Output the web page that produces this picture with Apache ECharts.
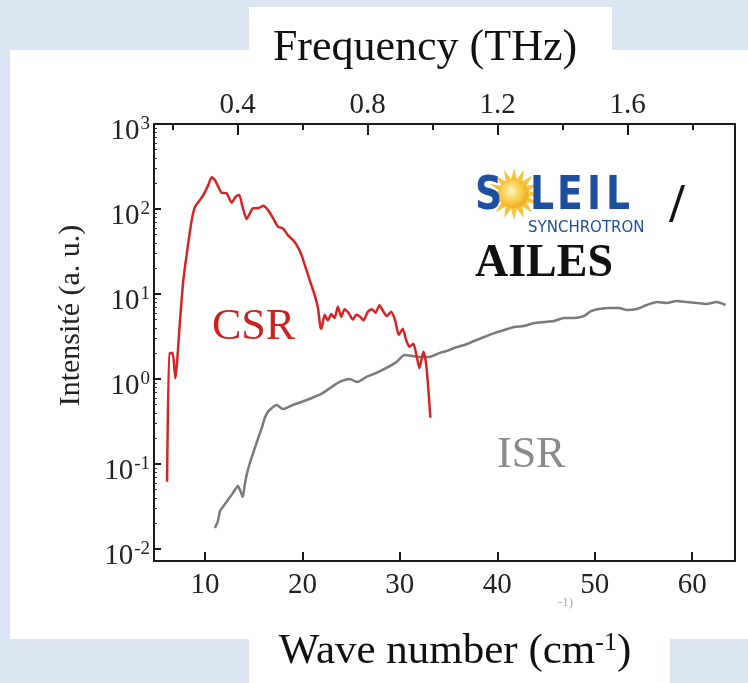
<!DOCTYPE html>
<html>
<head>
<meta charset="utf-8">
<script src="https://cdn.jsdelivr.net/npm/echarts@6/dist/echarts.min.js"></script>
<style>
  html, body { margin: 0; padding: 0; background: #dbe5f1; }
  #chart { width: 748px; height: 683px; }
</style>
</head>
<body>
<div id="chart"></div>
<script>
// CSR spectrum (red), wave number in cm-1 / intensity a.u.
const csrWave = [6.11, 6.32, 6.49, 6.69, 6.96, 7.44, 7.78, 8.29, 8.64, 8.98, 9.49, 9.83, 10.34, 10.69, 11.02,
  11.36, 11.71, 12.22, 12.73, 13.17, 13.51, 13.86, 14.27, 14.61, 14.94, 15.46, 15.97, 16.48, 16.99, 17.5,
  18.01, 18.53, 19.04, 19.39, 19.9, 20.24, 20.75, 21.26, 21.6, 21.84, 21.95, 22.28, 22.62, 22.97, 23.31,
  23.64, 23.99, 24.33, 24.77, 25.18, 25.53, 25.94, 26.27, 26.71, 27.16, 27.5, 27.91, 28.25, 28.66, 29.11,
  29.52, 29.89, 30.3, 30.64, 30.98, 31.39, 31.67, 32.01, 32.28, 32.42, 32.69, 32.96, 33.13];
const csrInt = [0.062, 2.02, 2.0, 2.04, 1.02, 4.9, 14.6, 39.8, 74, 106, 128, 146, 191, 236, 219,
  183, 155, 153, 119, 140, 146, 106, 76, 89, 102, 102, 109, 97, 78, 62,
  59, 49, 43, 38, 29, 22, 14.6, 9.7, 6.8, 4.1, 3.9, 5.7, 4.9, 5.8, 5.2,
  7.1, 5.4, 6.6, 5.9, 5.0, 5.7, 5.4, 4.9, 6.2, 6.6, 6.0, 7.4, 6.4, 5.5, 6.2,
  4.9, 3.3, 3.9, 2.9, 2.4, 2.6, 2.0, 1.34, 1.83, 2.1, 1.53, 0.68, 0.35];

// ISR spectrum (grey)
const isrWave = [11.02, 11.33, 11.54, 11.84, 12.35, 12.87, 13.38, 13.68, 13.89, 14.09, 14.4, 14.81, 15.22,
  15.53, 15.83, 16.14, 16.45, 16.86, 17.37, 17.98, 19.0, 20.44, 22.08, 23.0, 23.82, 24.84, 25.66, 26.58,
  27.6, 28.63, 29.65, 30.47, 31.29, 32.01, 33.03, 34.05, 34.77, 35.59, 36.61, 37.64, 38.66, 39.68, 40.71,
  41.73, 42.75, 43.78, 44.8, 45.82, 46.85, 47.87, 48.89, 49.61, 50.43, 51.45, 52.48, 53.3, 54.32, 55.34,
  56.37, 57.39, 58.41, 59.44, 60.46, 61.48, 62.51, 63.43];
const isrInt = [0.0177, 0.0213, 0.028, 0.0312, 0.0377, 0.0456, 0.0551, 0.0469, 0.0409, 0.0582, 0.085, 0.121, 0.167,
  0.213, 0.265, 0.348, 0.409, 0.456, 0.494, 0.443, 0.494, 0.566, 0.684, 0.805, 0.923, 1.0, 0.923, 1.06,
  1.18, 1.35, 1.58, 1.92, 1.87, 1.82, 1.82, 2.02, 2.13, 2.32, 2.51, 2.8, 3.12, 3.47, 3.77,
  4.09, 4.21, 4.56, 4.69, 4.81, 5.22, 5.22, 5.51, 6.31, 6.67, 6.84, 6.84, 6.48, 6.67, 7.43,
  8.05, 7.84, 8.28, 8.05, 7.84, 7.62, 8.05, 7.43];

// axis ticks
const waveTicks = [10, 20, 30, 40, 50, 60];
const thzTicks = [0.2, 0.4, 0.6, 0.8, 1.0, 1.2, 1.4, 1.6, 1.8];
const thzLabels = [0.4, 0.8, 1.2, 1.6];
const yDecades = [0.01, 0.1, 1, 10, 100, 1000];

const X_MIN = 4.77, X_MAX = 64.4;
const Y_MIN = 0.00723, Y_MAX = 1000;
const CM_PER_THZ = 33.356;
const SERIF = 'Liberation Serif';
const LOGO_BLUE = '#1d4f9e';

const yMinor = [];
yDecades.slice(0, -1).forEach(d => { for (let k = 2; k <= 9; k++) yMinor.push(+(d * k).toPrecision(3)); });

const zip = (xs, ys) => xs.map((x, i) => [x, ys[i]]);

// one letter of the SOLEIL logo
function logoLetter(ch, x) {
  return { type: 'text', z: 12, x: x, y: 197, scaleX: 0.82,
    style: { text: ch, font: 'bold 46px "DejaVu Sans"', fill: LOGO_BLUE, verticalAlign: 'middle' } };
}

function sunRays(cx, cy) {
  const p = [];
  for (let i = 0; i < 32; i++) {
    const a = i * Math.PI / 16, r = i % 2 ? 15 : 26;
    p.push([cx + r * Math.cos(a), cy + r * Math.sin(a)]);
  }
  return p;
}

const chart = echarts.init(document.getElementById('chart'), null, { renderer: 'canvas' });

const plainAxis = { show: false };
const option = {
  backgroundColor: '#dbe5f1',
  animation: false,
  grid: [
    { left: 154, right: 13, top: 124, bottom: 122 },
    { left: 154, right: 13, top: 124, bottom: 122 }
  ],
  xAxis: [
    {
      type: 'value', gridIndex: 0, position: 'bottom', min: X_MIN, max: X_MAX,
      axisLine: { onZero: false, lineStyle: { color: '#1a1a1a', width: 2 } },
      axisTick: { inside: true, length: 9, customValues: waveTicks, lineStyle: { color: '#1a1a1a', width: 2 } },
      axisLabel: { customValues: waveTicks, margin: 10, fontFamily: SERIF, fontSize: 29, color: '#222' },
      splitLine: plainAxis
    },
    {
      type: 'value', gridIndex: 0, position: 'top', min: X_MIN / CM_PER_THZ, max: X_MAX / CM_PER_THZ,
      axisLine: { onZero: false, lineStyle: { color: '#1a1a1a', width: 2 } },
      axisTick: { inside: true, length: 6, customValues: thzTicks, lineStyle: { color: '#1a1a1a', width: 2 } },
      axisLabel: { customValues: thzLabels, margin: 4, fontFamily: SERIF, fontSize: 29, color: '#222',
        formatter: v => v.toFixed(1) },
      splitLine: plainAxis
    },
    {
      // longer ticks under the labelled frequencies
      type: 'value', gridIndex: 1, position: 'top', min: X_MIN / CM_PER_THZ, max: X_MAX / CM_PER_THZ,
      axisLine: { show: false },
      axisTick: { inside: true, length: 11, customValues: thzLabels, lineStyle: { color: '#1a1a1a', width: 2 } },
      axisLabel: plainAxis, splitLine: plainAxis
    }
  ],
  yAxis: [
    {
      type: 'log', gridIndex: 0, position: 'left', min: Y_MIN, max: Y_MAX,
      name: 'Intensité (a. u.)', nameLocation: 'middle', nameGap: 68,
      nameTextStyle: { fontFamily: SERIF, fontSize: 30, color: '#222', padding: [0, 0, 0, 54] },
      axisLine: { onZero: false, lineStyle: { color: '#1a1a1a', width: 2 } },
      axisTick: { inside: true, length: 7, customValues: yDecades, lineStyle: { color: '#1a1a1a', width: 2 } },
      axisLabel: {
        customValues: yDecades, margin: 4, color: '#222',
        formatter: v => '{b|10}{s|' + Math.round(Math.log10(v)) + '}',
        rich: {
          b: { fontFamily: SERIF, fontSize: 29, lineHeight: 29, padding: [14, 0, 0, 0], color: '#222' },
          s: { fontFamily: SERIF, fontSize: 19, lineHeight: 19, padding: [5, 0, 0, 1], verticalAlign: 'top', color: '#222' }
        }
      },
      splitLine: plainAxis
    },
    {
      type: 'log', gridIndex: 0, position: 'right', min: Y_MIN, max: Y_MAX,
      axisLine: { show: true, onZero: false, lineStyle: { color: '#1a1a1a', width: 2 } },
      axisTick: plainAxis, axisLabel: plainAxis, splitLine: plainAxis
    },
    {
      type: 'log', gridIndex: 1, position: 'left', min: Y_MIN, max: Y_MAX,
      axisLine: { show: false },
      axisTick: { inside: true, length: 3, customValues: yMinor, lineStyle: { color: '#333', width: 1 } },
      axisLabel: plainAxis, splitLine: plainAxis
    }
  ],
  graphic: [
    { type: 'rect', z: -10, shape: { x: 10, y: 50, width: 738, height: 589 }, style: { fill: '#fff' } },
    { type: 'rect', z: -10, shape: { x: 249, y: 7, width: 363, height: 50 }, style: { fill: '#fff' } },
    { type: 'rect', z: -10, shape: { x: 249, y: 630, width: 421, height: 53 }, style: { fill: '#fff' } },
    { type: 'text', z: 10, x: 425, y: 48, style: { text: 'Frequency (THz)', font: '44px "Liberation Serif"',
      fill: '#111', align: 'center', verticalAlign: 'middle' } },
    { type: 'text', z: 10, x: 455, y: 652, style: {
      text: 'Wave number (cm{s|-1})', font: '43px "Liberation Serif"', fill: '#111',
      align: 'center', verticalAlign: 'middle',
      rich: { s: { font: '26px "Liberation Serif"', fill: '#111', verticalAlign: 'top', lineHeight: 26 } } } },
    { type: 'text', z: 10, x: 558, y: 603, style: { text: '-1)', font: '13px "Liberation Serif"', fill: '#aaa',
      verticalAlign: 'middle' } },
    { type: 'text', z: 10, x: 212, y: 327, style: { text: 'CSR', font: '44px "Liberation Serif"', fill: '#cc1f1f',
      verticalAlign: 'middle' } },
    { type: 'text', z: 10, x: 497, y: 455, style: { text: 'ISR', font: '44px "Liberation Serif"', fill: '#8a8a8a',
      verticalAlign: 'middle' } },
    // SOLEIL logo
    logoLetter('S', 475),
    { type: 'polygon', z: 10, shape: { points: sunRays(514, 194) }, style: { fill: '#f6c33a' } },
    { type: 'circle', z: 11, shape: { cx: 514, cy: 194, r: 14 }, style: {
      fill: new echarts.graphic.RadialGradient(0.4, 0.4, 0.7, [{ offset: 0, color: '#fff6c0' }, { offset: 0.6, color: '#f7c63c' }, { offset: 1, color: '#ef9a1e' }]) } },
    logoLetter('L', 530),
    logoLetter('E', 557),
    logoLetter('I', 587),
    logoLetter('L', 606),
    { type: 'text', z: 12, x: 528, y: 228, style: { text: 'SYNCHROTRON', font: '15px "DejaVu Sans"', fill: LOGO_BLUE, verticalAlign: 'middle' } },
    { type: 'text', z: 10, x: 677, y: 207, style: { text: '/', font: 'bold 54px "Liberation Serif"', fill: '#111',
      align: 'center', verticalAlign: 'middle' } },
    { type: 'text', z: 10, x: 475, y: 264, style: { text: 'AILES', font: 'bold 46px "Liberation Serif"', fill: '#111',
      verticalAlign: 'middle' } }
  ],
  series: [
    {
      name: 'ISR', type: 'line', xAxisIndex: 0, yAxisIndex: 0, data: zip(isrWave, isrInt),
      showSymbol: false, smooth: 0.2, lineStyle: { color: '#7a7a7a', width: 2.5 }, z: 3
    },
    {
      name: 'CSR', type: 'line', xAxisIndex: 0, yAxisIndex: 0, data: zip(csrWave, csrInt),
      showSymbol: false, smooth: 0.2, lineStyle: { color: '#d42424', width: 2.5 }, z: 4
    }
  ]
};

chart.setOption(option);
</script>
</body>
</html>
